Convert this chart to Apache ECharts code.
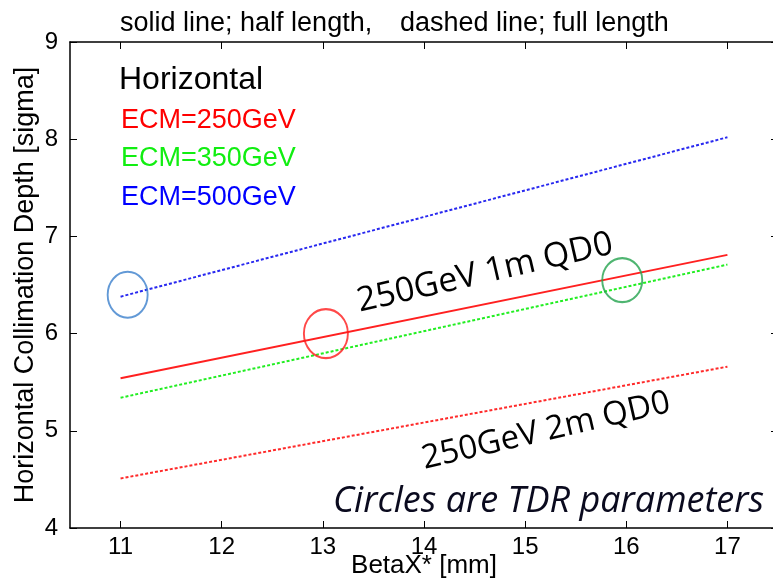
<!DOCTYPE html>
<html>
<head>
<meta charset="utf-8">
<script src="https://cdn.jsdelivr.net/npm/echarts@6/dist/echarts.min.js"></script>
<style>
html, body { margin: 0; padding: 0; background: #fff; }
#container { width: 773px; height: 580px; }
</style>
</head>
<body>
<div id="container"></div>
<script>
// x positions read at the ends of the lines
var betaX = [11, 17];
// depth values [sigma] at the two ends
var ecm250Half = [5.54, 6.81];   // red solid, 1m QD0
var ecm250Full = [4.51, 5.66];   // red dashed, 2m QD0
var ecm350Full = [5.34, 6.71];   // green dashed
var ecm500Full = [6.38, 8.02];   // blue dashed
// TDR parameter circles
var tdrX = [11.07, 13.03, 15.96];
var tdrY = [6.40, 6.00, 6.55];
// tick labels
var xTicks = [11, 12, 13, 14, 15, 16, 17];
var yTicks = [4, 5, 6, 7, 8, 9];

function pairs(xs, ys) {
    var out = [];
    for (var i = 0; i < xs.length; i++) {
        out.push([xs[i], ys[i]]);
    }
    return out;
}

var sans = 'Liberation Sans';
var calib = 'Open Sans';
var dom = document.getElementById('container');
var myChart = echarts.init(dom);

function lineSeries(name, ys, color, dashed) {
    return {
        name: name,
        type: 'line',
        data: pairs(betaX, ys),
        symbol: 'none',
        silent: true,
        lineStyle: { color: color, width: 2, type: dashed ? [3, 2] : 'solid' }
    };
}

var circleColors = ['#3b7fcc', '#ff1a1a', '#23a24d'];
var circleSizes = [[40, 46], [44, 49], [40, 44]];
var circleData = pairs(tdrX, tdrY).map(function (p, i) {
    return {
        value: p,
        symbolSize: circleSizes[i],
        itemStyle: { color: 'rgba(0,0,0,0)', borderColor: circleColors[i], borderWidth: 2 }
    };
});

var tickStyle = { show: true, inside: true, length: 7, lineStyle: { color: '#000', width: 1 } };
var lineStyleAxis = { show: true, lineStyle: { color: '#000', width: 1.5 } };

var option = {
    animation: false,
    grid: { left: 70, top: 42, width: 708, height: 486, outerBoundsMode: 'none', containLabel: false },
    xAxis: [
        {
            type: 'value', min: 10.5, max: 17.5, position: 'bottom',
            name: 'BetaX* [mm]', nameLocation: 'middle', nameGap: 25, nameMoveOverlap: false,
            nameTextStyle: { fontFamily: sans, fontSize: 26, color: '#000', lineHeight: 26 },
            axisLine: lineStyleAxis,
            axisTick: Object.assign({}, tickStyle, { customValues: xTicks }),
            axisLabel: { customValues: xTicks, fontFamily: sans, fontSize: 24, color: '#000', margin: 7 },
            splitLine: { show: false }
        },
        {
            type: 'value', min: 10.5, max: 17.5, position: 'top',
            axisLine: lineStyleAxis,
            axisTick: Object.assign({}, tickStyle, { customValues: xTicks }),
            axisLabel: { show: false },
            splitLine: { show: false }
        }
    ],
    yAxis: [
        {
            type: 'value', min: 4, max: 9, interval: 1, position: 'left',
            name: 'Horizontal Collimation Depth [sigma]', nameLocation: 'middle', nameGap: 31, nameMoveOverlap: false,
            nameTextStyle: { fontFamily: sans, fontSize: 27, color: '#000' },
            axisLine: lineStyleAxis,
            axisTick: tickStyle,
            axisLabel: { customValues: yTicks, fontFamily: sans, fontSize: 24, color: '#000', margin: 12 },
            splitLine: { show: false }
        },
        {
            type: 'value', min: 4, max: 9, interval: 1, position: 'right',
            axisLine: lineStyleAxis,
            axisTick: tickStyle,
            axisLabel: { show: false },
            splitLine: { show: false }
        }
    ],
    series: [
        lineSeries('ECM=500GeV', ecm500Full, '#2828f0', true),
        lineSeries('ECM=350GeV', ecm350Full, '#22ee22', true),
        lineSeries('ECM=250GeV 2m', ecm250Full, '#ff2a2a', true),
        lineSeries('ECM=250GeV 1m', ecm250Half, '#ff2020', false),
        {
            name: 'TDR', type: 'scatter', symbol: 'circle', silent: true,
            data: circleData, z: 5
        }
    ],
    graphic: [
        { type: 'text', x: 120, y: 24, style: { text: 'solid line; half length,', font: '27px ' + sans, fill: '#000', verticalAlign: 'middle' } },
        { type: 'text', x: 400, y: 24, style: { text: 'dashed line; full length', font: '27px ' + sans, fill: '#000', verticalAlign: 'middle' } },
        { type: 'text', x: 119, y: 80, style: { text: 'Horizontal', font: '32px ' + sans, fill: '#000', verticalAlign: 'middle' } },
        { type: 'text', x: 121, y: 121, style: { text: 'ECM=250GeV', font: '27px ' + sans, fill: '#ff0000', verticalAlign: 'middle' } },
        { type: 'text', x: 121, y: 159, style: { text: 'ECM=350GeV', font: '27px ' + sans, fill: '#11ee11', verticalAlign: 'middle' } },
        { type: 'text', x: 121, y: 198, style: { text: 'ECM=500GeV', font: '27px ' + sans, fill: '#0000ff', verticalAlign: 'middle' } },
        { type: 'text', x: 485, y: 273, rotation: 13 * Math.PI / 180,
          style: { text: '250GeV 1m QD0', font: '34px ' + calib, fill: '#000', align: 'center', verticalAlign: 'middle' } },
        { type: 'text', x: 546, y: 431, rotation: 13 * Math.PI / 180,
          style: { text: '250GeV 2m QD0', font: '33px ' + calib, fill: '#000', align: 'center', verticalAlign: 'middle' } },
        { type: 'text', x: 764, y: 502,
          style: { text: 'Circles are TDR parameters', font: 'italic 36px ' + calib, fill: '#0a0a1e', align: 'right', verticalAlign: 'middle' } }
    ]
};

myChart.setOption(option, true);
</script>
</body>
</html>
